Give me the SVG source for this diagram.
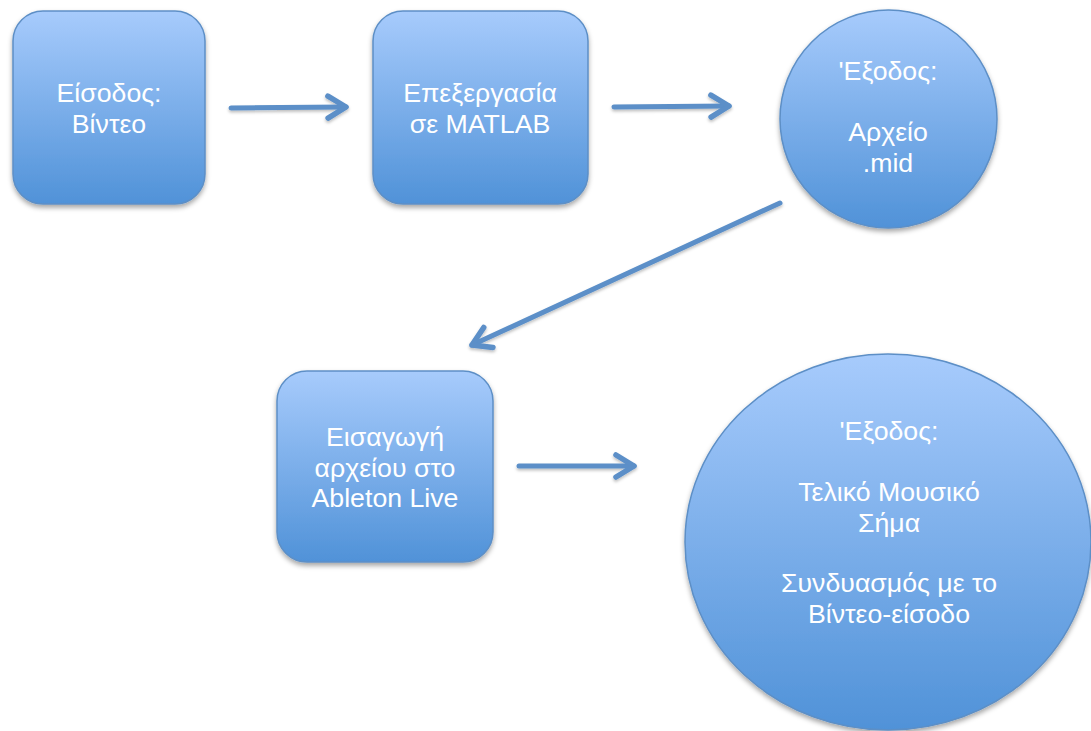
<svg xmlns="http://www.w3.org/2000/svg" width="1091" height="731" viewBox="0 0 1091 731">
<defs>
<linearGradient id="g" x1="0" y1="0" x2="0" y2="1">
<stop offset="0" stop-color="#a7cbfc"/>
<stop offset="1" stop-color="#5092d8"/>
</linearGradient>
<filter id="sh" x="-10%" y="-10%" width="120%" height="125%">
<feDropShadow dx="0" dy="3" stdDeviation="2.5" flood-color="#000" flood-opacity="0.35"/>
</filter>
<filter id="ash" filterUnits="userSpaceOnUse" x="0" y="0" width="1091" height="731">
<feDropShadow dx="0" dy="2" stdDeviation="1.5" flood-color="#000" flood-opacity="0.25"/>
</filter>
<marker id="ah" markerUnits="userSpaceOnUse" markerWidth="40" markerHeight="40" viewBox="-30 -20 40 40" refX="0" refY="0" orient="auto" overflow="visible">
<path d="M-18,-11 L0,0 L-18,11" fill="none" stroke="#5b8fc8" stroke-width="5.5" stroke-linecap="round" stroke-linejoin="round"/>
</marker>
</defs>
<style>
.shape{fill:url(#g);stroke:#5d8fc6;stroke-width:1.5;filter:url(#sh)}
.t{font-family:"Liberation Sans",Arial,sans-serif;font-size:26.7px;fill:#ffffff;text-anchor:middle}
.c{fill:none;stroke:#5b8fc8;stroke-width:5;stroke-linecap:round;marker-end:url(#ah)}
</style>
<rect width="1091" height="731" fill="#ffffff"/>
<g id="connectors" filter="url(#ash)">
<line class="c" x1="231" y1="108" x2="346" y2="107"/>
<line class="c" x1="614" y1="107" x2="729" y2="106"/>
<line class="c" x1="780" y1="203" x2="472" y2="345"/>
<line class="c" x1="519" y1="466" x2="634" y2="466"/>
</g>
<g id="n1">
<rect class="shape" x="13" y="11" width="192" height="193" rx="30" ry="30"/>
<text class="t" x="109" y="102">Είσοδος:</text>
<text class="t" x="109" y="133">Βίντεο</text>
</g>
<g id="n2">
<rect class="shape" x="373" y="11" width="215" height="193" rx="30" ry="30"/>
<text class="t" x="480" y="102">Επεξεργασία</text>
<text class="t" x="480" y="133">σε MATLAB</text>
</g>
<g id="n3">
<ellipse class="shape" cx="888.5" cy="119" rx="108.5" ry="109"/>
<text class="t" x="888" y="80">'Εξοδος:</text>
<text class="t" x="888" y="141">Αρχείο</text>
<text class="t" x="888" y="172">.mid</text>
</g>
<g id="n4">
<rect class="shape" x="277" y="371" width="216" height="191" rx="30" ry="30"/>
<text class="t" x="385" y="446">Εισαγωγή</text>
<text class="t" x="385" y="477">αρχείου στο</text>
<text class="t" x="385" y="507">Ableton Live</text>
</g>
<g id="n5">
<ellipse class="shape" cx="888" cy="542" rx="203" ry="188"/>
<text class="t" x="889" y="440">'Εξοδος:</text>
<text class="t" x="889" y="501">Τελικό Μουσικό</text>
<text class="t" x="889" y="532">Σήμα</text>
<text class="t" x="889" y="592">Συνδυασμός με το</text>
<text class="t" x="889" y="623">Βίντεο-είσοδο</text>
</g>
</svg>
